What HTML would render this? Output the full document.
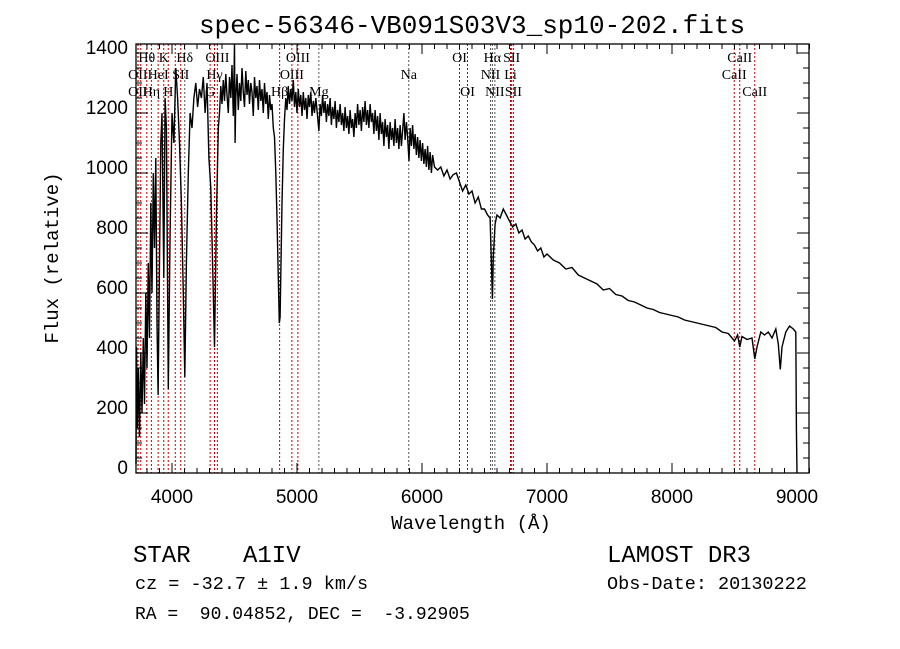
<!DOCTYPE html>
<html><head><meta charset="utf-8"><style>
body{margin:0;background:#fff;width:900px;height:649px;overflow:hidden}
svg{display:block}
</style></head><body>
<svg id="chart" width="900" height="649" xmlns="http://www.w3.org/2000/svg">
<rect width="900" height="649" fill="#fff"/>
<text x="472" y="33" text-anchor="middle" font-family="Liberation Mono, monospace" font-size="26">spec-56346-VB091S03V3_sp10-202.fits</text>
<g id="lines"></g>
<g id="labels" font-family="Liberation Serif, serif" font-size="14"></g>
<polyline id="spec" fill="none" stroke="#000" stroke-width="1.4"/>
<rect x="136" y="44" width="673" height="429" fill="none" stroke="#000" stroke-width="1.3"/>
<g id="ticks" stroke="#000" stroke-width="1"></g>
<g id="ticklabels" font-family="Liberation Sans, sans-serif" font-size="19"></g>
<text x="471" y="529" text-anchor="middle" font-family="Liberation Mono, monospace" font-size="19">Wavelength (Å)</text>
<text transform="translate(58,258) rotate(-90)" text-anchor="middle" font-family="Liberation Mono, monospace" font-size="19">Flux (relative)</text>
<text x="133" y="562" font-family="Liberation Mono, monospace" font-size="24">STAR</text>
<text x="243" y="562" font-family="Liberation Mono, monospace" font-size="24">A1IV</text>
<text x="135" y="589" font-family="Liberation Mono, monospace" font-size="18.5">cz = -32.7 ± 1.9 km/s</text>
<text x="135" y="619" font-family="Liberation Mono, monospace" font-size="18" xml:space="preserve">RA =  90.04852, DEC =  -3.92905</text>
<text x="607" y="562" font-family="Liberation Mono, monospace" font-size="24">LAMOST DR3</text>
<text x="607" y="589" font-family="Liberation Mono, monospace" font-size="18.5">Obs-Date: 20130222</text>
</svg>
<script>
const waveBlue=[3712,3716,3722,3730,3740,3750,3760,3770,3780,3790,3800,3810,3820,3830,3840,3850,3860,3870,3880,3889,3900,3910,3920,3934,3945,3955,3970,3985,4000,4015,4030,4045,4060,4075,4090,4102,4115,4130,4145,4160,4175,4190,4205,4220,4235,4250,4265,4280,4295,4310,4325,4340,4355,4370];
const fluxBlue=[30,420,150,350,120,400,200,450,230,600,350,700,450,900,600,1000,750,1050,500,260,700,1100,1200,650,1250,1150,280,800,1200,1100,1350,1250,1100,900,600,320,700,1000,1200,1150,1250,1300,1220,1280,1250,1320,1200,1300,1050,950,700,420,850,1150];
const waveMid=[4380,4390,4400,4410,4420,4430,4440,4450,4460,4470,4480,4490,4500,4505,4510,4520,4530,4540,4550,4560,4570,4580,4590,4600,4610,4620,4630,4640,4650,4660,4670,4680,4690,4700,4710,4720,4730,4740,4750,4760,4770,4780,4790,4800,4810,4820,4830,4840,4850,4858,4865,4872,4880,4890,4900,4910,4920,4930,4940,4950,4960,4970,4980,4990,5000,5010,5020,5030,5040,5050,5060,5070,5080,5090,5100,5110,5120,5130,5140,5150,5160,5175,5185,5195,5205,5215,5225,5235,5245,5255,5265,5275,5285,5295,5305,5315,5325,5335,5345,5355,5365,5375,5385,5395,5405,5415,5425,5435,5445,5455,5465,5475,5485,5495,5505,5515,5525,5535,5545,5555,5565,5575,5585,5595,5605,5615,5625,5635,5645,5655,5665,5675,5685,5695,5705,5715,5725,5735,5745,5755,5765,5775,5785,5795,5805,5815,5825,5835,5845,5855,5865,5875,5885,5896,5905,5915,5925,5935,5945,5955,5965,5975,5985,5995,6005,6015,6025,6035,6045,6055,6065,6075,6085,6100];
const fluxMid=[1200,1290,1230,1310,1240,1330,1260,1200,1320,1250,1360,1190,1440,1100,1250,1330,1210,1300,1240,1350,1270,1220,1340,1260,1310,1230,1300,1270,1190,1320,1250,1290,1210,1310,1240,1280,1200,1300,1230,1270,1180,1260,1210,1230,1150,1120,1000,850,650,500,520,700,900,1080,1180,1250,1210,1290,1230,1280,1240,1310,1220,1270,1200,1280,1220,1260,1190,1270,1210,1250,1180,1260,1220,1270,1190,1240,1200,1250,1210,1140,1230,1190,1260,1200,1240,1170,1230,1190,1250,1160,1220,1180,1240,1150,1210,1170,1230,1160,1200,1140,1220,1150,1190,1130,1210,1150,1180,1120,1200,1150,1230,1160,1210,1140,1220,1170,1240,1160,1210,1150,1230,1170,1200,1130,1210,1140,1190,1110,1200,1130,1170,1090,1180,1120,1160,1080,1170,1110,1150,1090,1180,1100,1150,1080,1160,1090,1140,1200,1110,1170,1120,1040,1150,1090,1160,1080,1130,1060,1120,1050,1110,1040,1100,1030,1080,1020,1090,1010,1070,1000,1060,1020];
const waveRed=[6125,6150,6175,6200,6225,6250,6275,6300,6325,6350,6375,6400,6425,6450,6475,6500,6525,6545,6555,6563,6570,6585,6600,6625,6650,6675,6700,6725,6750,6775,6800,6825,6850,6875,6900,6925,6950,6975,7000,7050,7100,7150,7200,7250,7300,7350,7400,7450,7500,7550,7600,7650,7700,7750,7800,7850,7900,7950,8000,8050,8100,8150,8200,8250,8300,8350,8400,8450,8500,8525,8542,8560,8600,8640,8662,8680,8710,8740,8770,8800,8830,8850,8866,8880,8910,8940,8970,8990,8995,9000];
const fluxRed=[1010,1020,990,1010,980,995,1000,970,940,960,930,940,900,920,880,880,860,850,700,580,720,830,860,850,880,860,840,820,830,800,810,780,790,770,760,740,750,720,730,710,700,680,685,660,650,640,630,610,615,595,590,575,570,560,550,545,535,530,525,520,510,505,500,495,490,485,470,465,440,460,420,455,445,450,380,420,470,460,470,450,480,430,345,420,470,490,480,470,150,0];
const lineWaves=[3727,3729,3750,3798,3835,3889,3934,3970,4026,4070,4102,4305,4340,4363,4861,4959,5007,5175,5894,6300,6364,6548,6563,6583,6708,6717,6731,8498,8542,8662];
const lineColors=['r','r','r','r','r','r','r','r','r','r','k','r','r','r','r','r','r','k','k','r','r','k','k','k','r','r','r','r','r','r'];
const labelText=['OII','OII','Hθ','Hη','HeI','K','H','SII','Hδ','G','Hγ','OIII','Hβ','OIII','OIII','Mg','Na','OI','OI','NII','Hα','NII','Li','SII','SII','CaII','CaII','CaII'];
const labelWave=[3727,3727,3798,3835,3889,3934,3970,4070,4102,4305,4340,4363,4861,4959,5007,5175,5894,6300,6364,6548,6563,6583,6708,6717,6731,8498,8542,8662];
const labelRow=[2,3,1,3,2,1,3,2,1,3,2,1,3,2,1,3,2,1,3,2,1,3,2,1,3,2,1,3];
const xTicks=[4000,5000,6000,7000,8000,9000];
const yTicks=[0,200,400,600,800,1000,1200,1400];
const wave=waveBlue.concat(waveMid,waveRed);
const flux=fluxBlue.concat(fluxMid,fluxRed);
const X=w=>172+(w-4000)*0.125;
const Y=f=>473-f*0.3;
const NS='http://www.w3.org/2000/svg';
const mk=(t,p)=>{const e=document.createElementNS(NS,t);for(const k in p)e.setAttribute(k,p[k]);return e;};
document.getElementById('spec').setAttribute('points',wave.map((w,i)=>X(w).toFixed(1)+','+Math.max(44,Y(flux[i])).toFixed(1)).join(' '));
const gl=document.getElementById('lines');
lineWaves.forEach((w,i)=>{const l=mk('line',{x1:X(w),x2:X(w),y1:44,y2:473,stroke:lineColors[i]==='r'?'#c00000':'#555','stroke-width':1,'stroke-dasharray':'2,2'});


gl.appendChild(l);});
const glb=document.getElementById('labels');
labelText.forEach((t,i)=>{const e=mk('text',{x:X(labelWave[i]),y:[0,62,79,96][labelRow[i]],'text-anchor':'middle'});e.textContent=t;


glb.appendChild(e);});
const gt=document.getElementById('ticks'),gtl=document.getElementById('ticklabels');
for(let w=3800;w<=9100;w+=100){const L=(w%1000===0)?10:5;
gt.appendChild(mk('line',{x1:X(w),x2:X(w),y1:473,y2:473-L}));gt.appendChild(mk('line',{x1:X(w),x2:X(w),y1:44,y2:44+L}));}
xTicks.forEach(w=>{const e=mk('text',{x:X(w),y:503,'text-anchor':'middle'});e.textContent=w;


gtl.appendChild(e);});
for(let f=0;f<=1425;f+=50){const L=(f%200===0)?12:6;
gt.appendChild(mk('line',{x1:136,x2:136+L,y1:Y(f),y2:Y(f)}));gt.appendChild(mk('line',{x1:809,x2:809-L,y1:Y(f),y2:Y(f)}));}
yTicks.forEach(f=>{const e=mk('text',{x:128,y:Y(f)+1,'text-anchor':'end'});e.textContent=f;


gtl.appendChild(e);});
</script>
</body></html>
